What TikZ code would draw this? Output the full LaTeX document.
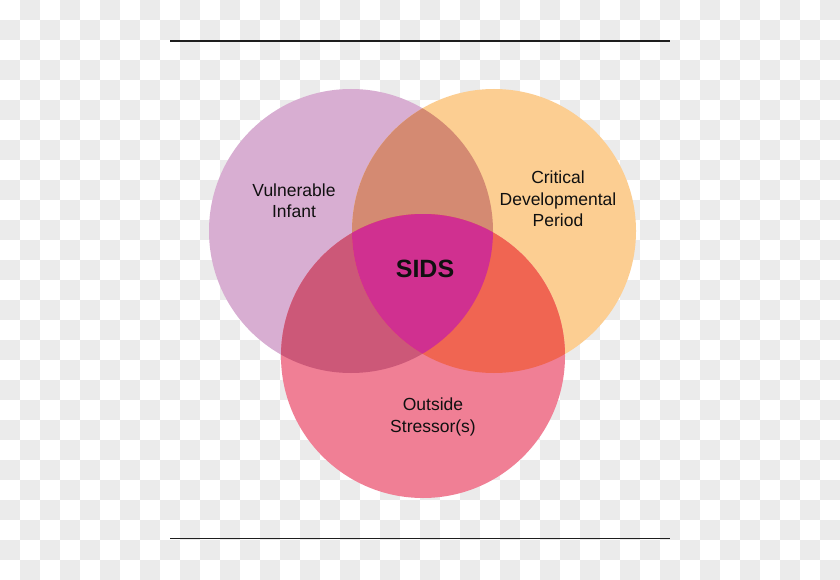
\documentclass[tikz,border=0pt]{standalone}
\usepackage{fontspec}
\setmainfont{Liberation Sans}
\definecolor{chk}{HTML}{EBEBEB}
\definecolor{cPurple}{HTML}{D8AED2}
\definecolor{cOrange}{HTML}{FCCE92}
\definecolor{cPink}{HTML}{F07F95}
\definecolor{cPO}{HTML}{D48A72}
\definecolor{cPS}{HTML}{CC5878}
\definecolor{cOS}{HTML}{F06552}
\definecolor{cAll}{HTML}{D03090}
\definecolor{txt}{HTML}{101010}
\definecolor{rule}{HTML}{1E1E1E}
\tikzset{
  lbl/.style={inner sep=0pt, anchor=base, text=txt, font=\fontsize{17.5}{20}\selectfont},
  bigl/.style={inner sep=0pt, anchor=base, text=txt, font=\fontsize{25}{28}\selectfont\bfseries},
  rulel/.style={draw=rule, line width=1.8pt},
  set/.style={circle, inner sep=0pt, minimum size=284pt}
}
\begin{document}
\begin{tikzpicture}[x=1pt, y=-1pt]
\useasboundingbox (0,0) rectangle (840,580);
% transparency checkerboard background
\fill[white] (0,0) rectangle (840,580);
\foreach \j in {0,...,28}{
  \pgfmathtruncatemacro\off{20*(1-mod(\j,2))}
  \foreach \k in {0,...,20}{
    \fill[chk] (\off+40*\k, 20*\j) rectangle ++(20,20);
  }
}
% rules
\coordinate (t1) at (170,40.8);
\coordinate (t2) at (670,40.8);
\coordinate (b1) at (170,538.5);
\coordinate (b2) at (670,538.5);
\draw[rulel] (t1) -- (t2);
\draw[rulel] (b1) -- (b2);
% sets
\node[set, fill=cPurple] (P) at (351,231) {};
\node[set, fill=cOrange] (O) at (494,231) {};
\node[set, fill=cPink]   (S) at (423,356) {};
% pairwise overlaps
\begin{scope}
  \clip (P.center) circle[radius=142pt];
  \fill[cPO] (O.center) circle[radius=142pt];
  \fill[cPS] (S.center) circle[radius=142pt];
\end{scope}
\begin{scope}
  \clip (O.center) circle[radius=142pt];
  \fill[cOS] (S.center) circle[radius=142pt];
\end{scope}
\begin{scope}
  \clip (P.center) circle[radius=142pt];
  \clip (O.center) circle[radius=142pt];
  \fill[cAll] (S.center) circle[radius=142pt];
\end{scope}
% labels
\node[lbl] (v1) at (294,196.5) {Vulnerable};
\node[lbl] (v2) at (294,218) {Infant};
\node[lbl] (c1) at (558,183) {Critical};
\node[lbl] (c2) at (558,205) {Developmental};
\node[lbl] (c3) at (558,226.5) {Period};
\node[bigl] (sids) at (425,277) {SIDS};
\node[lbl] (o1) at (433,410) {Outside};
\node[lbl] (o2) at (433,432) {Stressor(s)};
\end{tikzpicture}
\end{document}
